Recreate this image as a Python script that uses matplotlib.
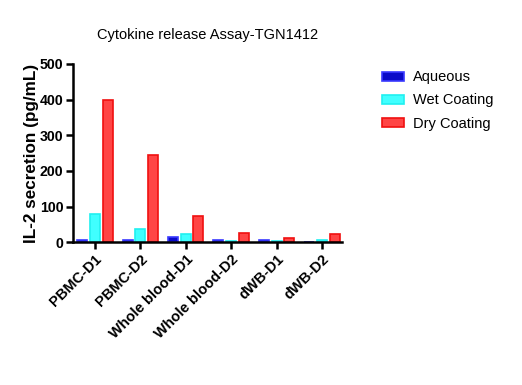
import numpy as np
import matplotlib.pyplot as plt

plt.rcParams['font.family'] = ['Liberation Sans', 'DejaVu Sans']

# datos
groups = ["PBMC-D1", "PBMC-D2", "Whole blood-D1", "Whole blood-D2", "dWB-D1", "dWB-D2"]
aqueous = [7, 5, 15, 7, 5, 0]
wet = [78, 38, 22, 2, 2, 5]
dry = [400, 244, 72, 25, 12, 22]

series = [("Aqueous", aqueous, "#0A0AC8", "#3A3AFF"),
          ("Wet Coating", wet, "#40FFFF", "#20F0F0"),
          ("Dry Coating", dry, "#FF4545", "#F01010")]

fig = plt.figure(figsize=(5.22, 3.85), dpi=100)
ax = fig.add_axes([0.14, 0.371, 0.515, 0.463])

x = np.arange(len(groups))
w = 0.22
offs = [-0.28, 0.0, 0.28]
for (lab, vals, fc, ec), o in zip(series, offs):
    ax.bar(x + o, vals, w, color=fc, edgecolor=ec, linewidth=1.2, label=lab)

ax.set_xlim(-0.48, 5.44)
ax.set_ylim(0, 500)
ax.set_yticks([0, 100, 200, 300, 400, 500])
ax.set_xticks(x)
ax.set_xticklabels(groups, rotation=45, ha="right", rotation_mode="anchor",
                   fontsize=10.5, fontweight="bold")
for t in ax.get_yticklabels():
    t.set_fontsize(10.2)
    t.set_fontweight("bold")
ax.set_ylabel("IL-2 secretion (pg/mL)", fontsize=12.3, fontweight="bold")
ax.yaxis.set_label_coords(-0.128, 0.5)
ax.set_title("Cytokine release Assay-TGN1412", fontsize=10.5, pad=18)

for s in ["top", "right"]:
    ax.spines[s].set_visible(False)
for s in ["left", "bottom"]:
    ax.spines[s].set_linewidth(1.8)
ax.tick_params(width=1.8, length=5, pad=2)

fig.legend(*ax.get_legend_handles_labels(), loc="upper left",
           bbox_to_anchor=(0.732, 0.817), frameon=False, fontsize=10.5,
           borderpad=0, borderaxespad=0,
           handlelength=1.5, handleheight=0.62, labelspacing=0.62, handletextpad=0.6)

fig.savefig("out.png", dpi=100)
